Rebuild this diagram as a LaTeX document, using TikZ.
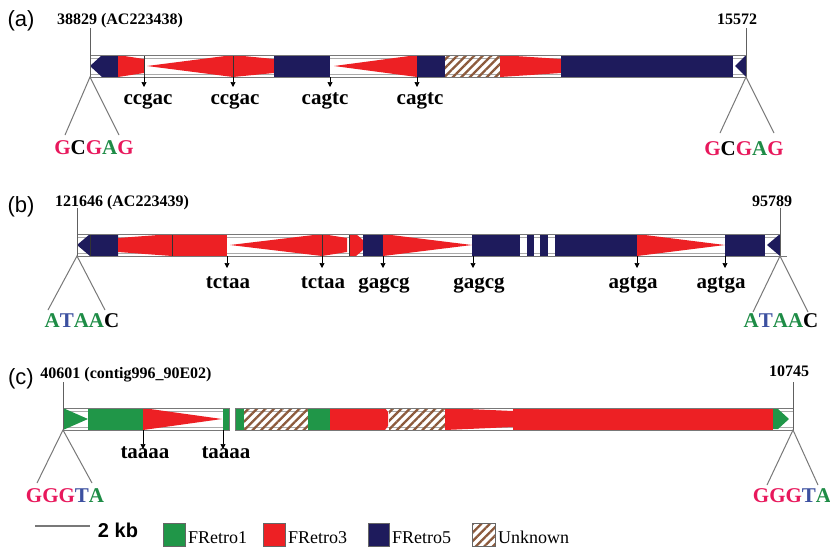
\documentclass[tikz,border=0pt]{standalone}
\usepackage{fontspec}
\setmainfont{Liberation Serif}
\newfontfamily\sansf{Liberation Sans}
\usetikzlibrary{arrows.meta,patterns.meta}
\definecolor{rRed}{RGB}{237,32,36}
\definecolor{rBlue}{RGB}{30,27,92}
\definecolor{rGreen}{RGB}{32,150,72}
\definecolor{rHatch}{RGB}{140,90,60}
\definecolor{tPink}{RGB}{232,24,92}
\definecolor{tGreen}{RGB}{30,140,70}
\definecolor{tBlue}{RGB}{60,80,160}
\definecolor{frameGray}{RGB}{120,120,120}
\definecolor{innerGray}{RGB}{170,170,170}
\begin{document}
\begin{tikzpicture}[x=1pt,y=-1pt,
  panel/.style={font=\sansf\fontsize{22}{22}\selectfont, inner sep=0pt},
  poslbl/.style={font=\fontsize{16}{16}\selectfont\bfseries, inner sep=0pt, anchor=base},
  site/.style={font=\fontsize{21}{21}\selectfont\bfseries, inner sep=0pt, anchor=base},
  tsd/.style={font=\fontsize{21}{21}\selectfont\bfseries, inner sep=0pt, anchor=base},
  tick/.style={-{Triangle[length=5pt,width=5pt]}, line width=0.7pt, black},
  tsdline/.style={draw=frameGray, line width=1pt},
  endline/.style={draw=frameGray!80!black, line width=1pt},
  outerframe/.style={draw=frameGray, line width=1pt},
  innerline/.style={draw=innerGray, line width=0.6pt},
  sep/.style={draw=black!80, line width=0.8pt},
  redfill/.style={fill=rRed},
  bluefill/.style={fill=rBlue},
  greenfill/.style={fill=rGreen},
  hatchfill/.style={fill=white, pattern={Lines[angle=45,distance=6pt,line width=2.3pt]}, pattern color=rHatch},
  legtext/.style={font=\fontsize{18}{18}\selectfont, inner sep=0pt, anchor=base west},
  legbox/.style={draw=black!60, line width=0.8pt}
]
\useasboundingbox (0,0) rectangle (830,547);
\fill[white] (0,0) rectangle (830,547);

% ================= (a) =================
\node[panel] (pa) at (21,21) {(a)};
\node[poslbl] (a-lpos) at (120,24) {38829 (AC223438)};
\node[poslbl] (a-rpos) at (737,24) {15572};
\draw[innerline] (90,58) -- (746,58);
\draw[innerline] (90,74) -- (746,74);
\fill[bluefill] (90,66) -- (102,55) -- (118,55) -- (118,77) -- (102,77) -- cycle;
\fill[redfill] (118,55) -- (144,59) -- (144,73) -- (118,77) -- cycle;
\fill[redfill] (147,66) -- (233,55) -- (233,77) -- cycle;
\fill[redfill] (233,55) -- (274,59) -- (274,73) -- (233,77) -- cycle;
\fill[bluefill] (274,55) rectangle (330,77);
\fill[redfill] (334,66) -- (417,55) -- (417,77) -- cycle;
\fill[bluefill] (417,55) rectangle (445,77);
\path[hatchfill] (445,55) rectangle (500,77);
\fill[redfill] (500,55) -- (561,59) -- (561,73) -- (500,77) -- cycle;
\fill[bluefill] (561,55) rectangle (733,77);
\fill[bluefill] (735,66) -- (746,55) -- (746,77) -- cycle;
\draw[sep] (144,55) -- (144,77);
\draw[sep] (233,55) -- (233,77);
\draw[outerframe] (90,55) rectangle (746,77);
\coordinate (a-L) at (90,77);
\coordinate (a-Ltop) at (90,28);
\coordinate (a-R) at (746,77);
\coordinate (a-Rtop) at (746,28);
\draw[endline] (a-Ltop) -- (a-L);
\draw[endline] (a-Rtop) -- (a-R);
\node[tsd] (a-ltsd) at (94,154) {\textcolor{tPink}{G}C\textcolor{tPink}{G}\textcolor{tGreen}{A}\textcolor{tPink}{G}};
\node[tsd] (a-rtsd) at (744,155) {\textcolor{tPink}{G}C\textcolor{tPink}{G}\textcolor{tGreen}{A}\textcolor{tPink}{G}};
\coordinate (a-l1) at (65,135);
\coordinate (a-l2) at (119,135);
\coordinate (a-r1) at (720,133);
\coordinate (a-r2) at (774,133);
\draw[tsdline] (a-l1) -- (a-L) -- (a-l2);
\draw[tsdline] (a-r1) -- (a-R) -- (a-r2);
\foreach \i/\x/\lx/\t in {1/144/148/ccgac, 2/233/235/ccgac, 3/330/325/cagtc, 4/417/420/cagtc} {
  \coordinate (a-b\i) at (\x,77);
  \coordinate (a-t\i) at (\x,87);
  \node[site] (a-s\i) at (\lx,104) {\t};
  \draw[tick] (a-b\i) -- (a-t\i);
}

% ================= (b) =================
\node[panel] (pb) at (21,207) {(b)};
\node[poslbl] (b-lpos) at (122,206) {121646 (AC223439)};
\node[poslbl] (b-rpos) at (772,206) {95789};
\draw[innerline] (77,237) -- (780,237);
\draw[innerline] (77,253) -- (780,253);
\fill[bluefill] (77,245) -- (90,234) -- (118,234) -- (118,256) -- (90,256) -- cycle;
\fill[redfill] (118,238) -- (172,234) -- (172,256) -- (118,252) -- cycle;
\fill[redfill] (172,234) rectangle (227,256);
\fill[redfill] (230,245) -- (322,234) -- (322,256) -- cycle;
\fill[redfill] (322,234) -- (347,238) -- (347,252) -- (322,256) -- cycle;
\fill[redfill] (349,234) -- (356,234) -- (363,240) -- (363,250) -- (356,256) -- (349,256) -- cycle;
\fill[bluefill] (363,234) rectangle (383,256);
\fill[redfill] (383,234) -- (472,245) -- (383,256) -- cycle;
\fill[bluefill] (472,234) rectangle (520,256);
\fill[bluefill] (527,234) rectangle (534,256);
\fill[bluefill] (540,234) rectangle (548,256);
\fill[bluefill] (555,234) rectangle (637,256);
\fill[redfill] (637,234) -- (725,245) -- (637,256) -- cycle;
\fill[bluefill] (725,234) rectangle (765,256);
\fill[bluefill] (767,245) -- (780,234) -- (780,256) -- cycle;
\draw[sep] (90,234) -- (90,256);
\draw[sep] (172,234) -- (172,256);
\draw[sep] (322,234) -- (322,256);
\draw[sep] (349,234) -- (349,256);
\draw[outerframe] (77,234) rectangle (780,256);
\draw[outerframe] (780,256) -- (787,256);
\coordinate (b-L) at (77,256);
\coordinate (b-Ltop) at (77,208);
\coordinate (b-R) at (780,256);
\coordinate (b-Rtop) at (780,208);
\draw[endline] (b-Ltop) -- (b-L);
\draw[endline] (b-Rtop) -- (b-R);
\node[tsd] (b-ltsd) at (82,327) {\textcolor{tGreen}{A}\textcolor{tBlue}{T}\textcolor{tGreen}{AA}C};
\node[tsd] (b-rtsd) at (781,327) {\textcolor{tGreen}{A}\textcolor{tBlue}{T}\textcolor{tGreen}{AA}C};
\coordinate (b-l1) at (48,310);
\coordinate (b-l2) at (105,310);
\coordinate (b-r1) at (753,312);
\coordinate (b-r2) at (808,312);
\draw[tsdline] (b-l1) -- (b-L) -- (b-l2);
\draw[tsdline] (b-r1) -- (b-R) -- (b-r2);
\foreach \i/\x/\lx/\t in {1/227/228/tctaa, 2/322/323/tctaa, 3/383/384/gagcg, 4/473/479/gagcg, 5/637/633/agtga, 6/725/721/agtga} {
  \coordinate (b-b\i) at (\x,256);
  \coordinate (b-t\i) at (\x,268);
  \node[site] (b-s\i) at (\lx,288) {\t};
  \draw[tick] (b-b\i) -- (b-t\i);
}

% ================= (c) =================
\node[panel] (pc) at (21,379) {(c)};
\node[poslbl] (c-lpos) at (126,378) {40601 (contig996\_90E02)};
\node[poslbl] (c-rpos) at (789,376) {10745};
\draw[innerline] (63,411) -- (229,411);
\draw[innerline] (63,427) -- (229,427);
\draw[innerline] (235,411) -- (793,411);
\draw[innerline] (235,427) -- (793,427);
\fill[greenfill] (63,408) -- (88,419) -- (63,430) -- cycle;
\fill[greenfill] (88,408) rectangle (143,430);
\fill[redfill] (143,408) -- (222,419) -- (143,430) -- cycle;
\fill[greenfill] (223,408) rectangle (229,430);
\fill[greenfill] (235,408) rectangle (244,430);
\path[hatchfill] (244,408) rectangle (308,430);
\fill[greenfill] (308,408) rectangle (330,430);
\fill[redfill] (330,408) rectangle (385,430);
\fill[redfill] (385,408) -- (388,412) -- (388,426) -- (385,430) -- cycle;
\path[hatchfill] (389,408) rectangle (445,430);
\fill[redfill] (445,408) -- (513,411) -- (513,427) -- (445,430) -- cycle;
\fill[redfill] (513,408) rectangle (773,430);
\fill[greenfill] (773,409) -- (778,409) -- (789,419) -- (778,429) -- (773,429) -- cycle;
\draw[outerframe] (63,408) rectangle (229,430);
\draw[outerframe] (235,408) rectangle (793,430);
\coordinate (c-L) at (63,430);
\coordinate (c-Ltop) at (63,382);
\coordinate (c-R) at (793,430);
\coordinate (c-Rtop) at (793,382);
\draw[endline] (c-Ltop) -- (c-L);
\draw[endline] (c-Rtop) -- (c-R);
\node[tsd] (c-ltsd) at (65,502) {\textcolor{tPink}{GGG}\textcolor{tBlue}{T}\textcolor{tGreen}{A}};
\node[tsd] (c-rtsd) at (792,502) {\textcolor{tPink}{GGG}\textcolor{tBlue}{T}\textcolor{tGreen}{A}};
\coordinate (c-l1) at (37,483);
\coordinate (c-l2) at (92,483);
\coordinate (c-r1) at (767,485);
\coordinate (c-r2) at (818,485);
\draw[tsdline] (c-l1) -- (c-L) -- (c-l2);
\draw[tsdline] (c-r1) -- (c-R) -- (c-r2);
\foreach \i/\x/\lx/\t in {1/143/145/taaaa, 2/223/226/taaaa} {
  \coordinate (c-b\i) at (\x,430);
  \coordinate (c-t\i) at (\x,449);
  \node[site] (c-s\i) at (\lx,458) {\t};
  \draw[tick] (c-b\i) -- (c-t\i);
}

% ================= legend =================
\coordinate (sb1) at (35,526);
\coordinate (sb2) at (90,526);
\draw[draw=frameGray, line width=2.6pt] (sb1) -- (sb2);
\node[font=\sansf\fontsize{20}{20}\selectfont\bfseries, inner sep=0pt, anchor=base] (sbl) at (118,537) {2 kb};
\filldraw[greenfill, legbox] (163,523) rectangle (185,546);
\node[legtext] (lg1) at (188,543) {FRetro1};
\filldraw[redfill, legbox] (263,523) rectangle (285,546);
\node[legtext] (lg3) at (288,543) {FRetro3};
\filldraw[bluefill, legbox] (368,523) rectangle (389,546);
\node[legtext] (lg5) at (392,543) {FRetro5};
\path[hatchfill] (472,523) rectangle (495,546);
\draw[legbox] (472,523) rectangle (495,546);
\node[legtext] (lgu) at (498,543) {Unknown};
\end{tikzpicture}
\end{document}
